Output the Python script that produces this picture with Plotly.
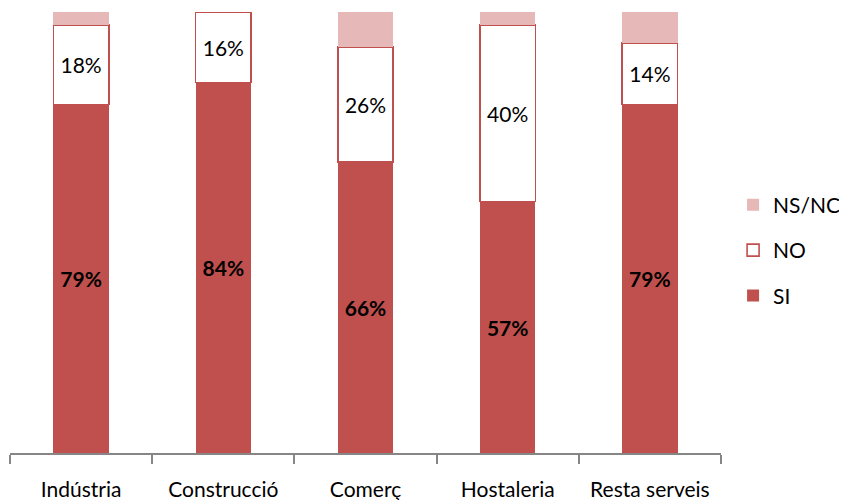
import plotly.graph_objects as go

# ==============================
# DATA
# ==============================

sectors = ["Indústria", "Construcció", "Comerç", "Hostaleria", "Resta serveis"]
si = [79, 84, 66, 57, 79]
no = [18, 16, 26, 40, 14]
nsnc = [3, 0, 8, 3, 7]

RED = "#C0504D"
PINK = "#E6B9B8"
FONT = "Lato"
FS = 21

# ==============================
# BUILD GRAPH
# ==============================

fig = go.Figure()

fig.add_trace(go.Bar(
    x=sectors, y=si, name="SI", legendgroup="si", legendrank=3,
    marker=dict(color=RED, line=dict(width=0)),
    text=[f"<b>{v}%</b>" for v in si], textposition="inside",
    insidetextanchor="middle", textangle=0,
    textfont=dict(color="black", size=FS, family=FONT),
))

fig.add_trace(go.Bar(
    x=sectors, y=no, name="NO", legendgroup="no", legendrank=2,
    marker=dict(color="white", line=dict(color=RED, width=1.6)),
    text=[f"{v}%" for v in no], textposition="inside",
    insidetextanchor="middle", textangle=0,
    textfont=dict(color="black", size=FS, family=FONT),
))

fig.add_trace(go.Bar(
    x=sectors, y=nsnc, name="NS/NC", legendgroup="nsnc", legendrank=1,
    marker=dict(color=PINK, line=dict(width=0)),
    hoverinfo="y",
))

# ==============================
# STYLE
# ==============================

# page body adds 8px, so the figure is 8px smaller than the window
fig.update_layout(
    barmode="stack",
    bargap=0.61,
    width=839, height=492,
    margin=dict(l=2, r=123, t=4, b=47),
    paper_bgcolor="white", plot_bgcolor="white",
    font=dict(family=FONT, size=FS, color="black"),
    uniformtext=dict(mode="show", minsize=10),
    legend=dict(
        x=1.017, xanchor="left", y=0.46, yanchor="middle",
        traceorder="grouped", tracegroupgap=15,
        font=dict(size=FS, family=FONT),
        itemwidth=30,
    ),
    showlegend=True,
)

fig.update_xaxes(
    showline=True, linecolor="#868686", linewidth=1.5,
    ticks="outside", tickson="boundaries", ticklen=9,
    tickcolor="#868686", tickwidth=1.5,
    ticklabelstandoff=17, automargin=False,
    tickfont=dict(size=FS, family=FONT),
)

fig.update_yaxes(range=[0, 100], visible=False, showgrid=False, automargin=False)

fig.write_html("out.html")
